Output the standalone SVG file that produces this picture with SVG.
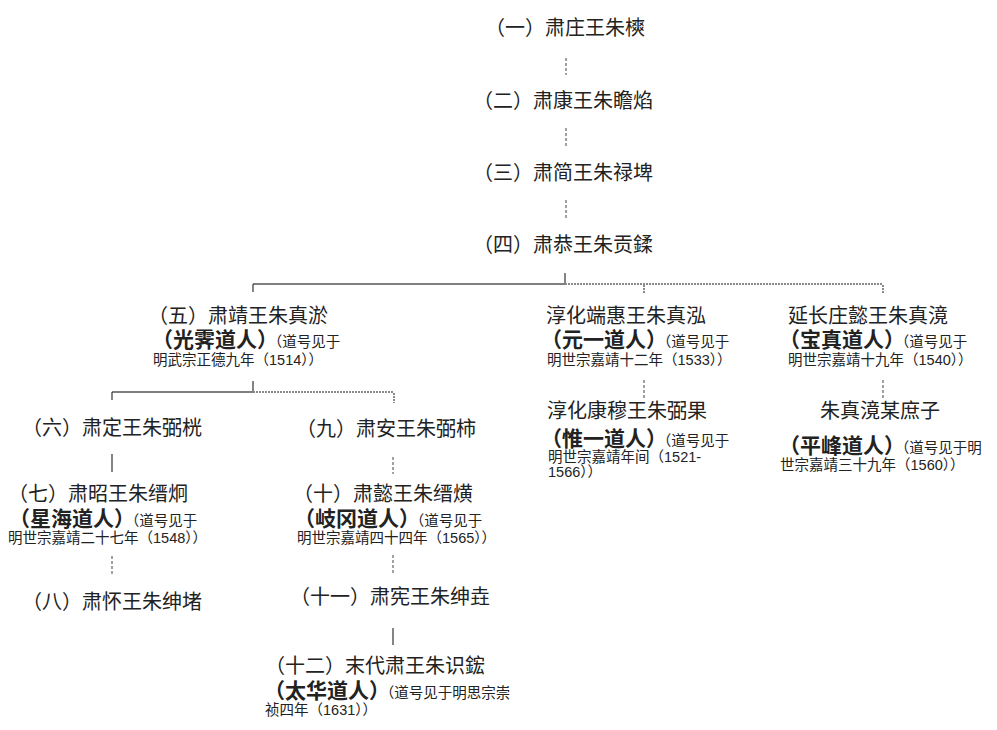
<svg xmlns="http://www.w3.org/2000/svg" width="997" height="730" viewBox="0 0 997 730">
<style>
text{font-family:"Liberation Sans","Noto Sans CJK SC",sans-serif;fill:#222}
.t{font-size:20px}
.b{font-size:21px;font-weight:bold}
.s{font-size:14.5px}
.solid{stroke:#7f7f7f;stroke-width:2;fill:none}
.tick{stroke:#333;stroke-width:1.2;fill:none}
.dot{stroke:#8a8a8a;stroke-width:2;stroke-dasharray:2 1;fill:none}
.dash{stroke:#444;stroke-width:1;stroke-dasharray:3 2;fill:none}
</style>
<rect width="997" height="730" fill="#fff"/>
<g id="connectors">
<line class="dash" x1="566" y1="58" x2="566" y2="75"/>
<line class="dash" x1="566" y1="128" x2="566" y2="146"/>
<line class="dash" x1="566" y1="200" x2="566" y2="218"/>
<line class="tick" x1="565" y1="273" x2="565" y2="284"/>
<line class="solid" x1="253" y1="284" x2="565" y2="284"/>
<line class="dot" x1="565" y1="284" x2="883" y2="284"/>
<line class="tick" x1="253" y1="284" x2="253" y2="292"/>
<line class="dot" x1="644" y1="285" x2="644" y2="293" stroke-width="1.5"/>
<line class="dot" x1="883" y1="285" x2="883" y2="293" stroke-width="1.5"/>
<line class="tick" x1="253" y1="381" x2="253" y2="392"/>
<line class="solid" x1="112" y1="392" x2="253" y2="392"/>
<line class="dot" x1="253" y1="392" x2="394" y2="392"/>
<line class="tick" x1="112" y1="392" x2="112" y2="400"/>
<line class="dot" x1="394" y1="393" x2="394" y2="403" stroke-width="1.5"/>
<line class="tick" x1="112" y1="454" x2="112" y2="472"/>
<line class="dash" x1="112" y1="556" x2="112" y2="575"/>
<line class="dash" x1="393" y1="457" x2="393" y2="474"/>
<line class="dash" x1="393" y1="555" x2="393" y2="575"/>
<line class="tick" x1="393" y1="628" x2="393" y2="645"/>
<line class="dash" x1="644" y1="380" x2="644" y2="398"/>
<line class="dash" x1="883" y1="380" x2="883" y2="398"/>
</g>
<g id="n1"><text class="t" x="485" y="35">（一）肃庄王朱樉</text></g>
<g id="n2"><text class="t" x="473" y="108">（二）肃康王朱瞻焰</text></g>
<g id="n3"><text class="t" x="473" y="180">（三）肃简王朱禄埤</text></g>
<g id="n4"><text class="t" x="473" y="252">（四）肃恭王朱贡鍒</text></g>
<g id="n5">
<text class="t" x="148" y="323">（五）肃靖王朱真淤</text>
<text x="152" y="347"><tspan class="b">（光霁道人）</tspan><tspan class="s" dx="-3">（道号见于</tspan></text>
<text class="s" x="153" y="365">明武宗正德九年（1514））</text>
</g>
<g id="n5b">
<text class="t" x="546" y="323">淳化端惠王朱真泓</text>
<text x="541" y="347"><tspan class="b">（元一道人）</tspan><tspan class="s" dx="-3">（道号见于</tspan></text>
<text class="s" x="547" y="365">明世宗嘉靖十二年（1533））</text>
</g>
<g id="n5c">
<text class="t" x="788" y="323">延长庄懿王朱真滰</text>
<text x="779" y="347"><tspan class="b">（宝真道人）</tspan><tspan class="s" dx="-3">（道号见于</tspan></text>
<text class="s" x="788" y="365">明世宗嘉靖十九年（1540））</text>
</g>
<g id="n5b1">
<text class="t" x="547" y="418">淳化康穆王朱弼果</text>
<text x="541" y="446"><tspan class="b">（惟一道人）</tspan><tspan class="s" dx="-3">（道号见于</tspan></text>
<text class="s" x="548" y="462">明世宗嘉靖年间（1521-</text>
<text class="s" x="548" y="477">1566））</text>
</g>
<g id="n5c1">
<text class="t" x="820" y="418">朱真滰某庶子</text>
<text x="779" y="453"><tspan class="b">（平峰道人）</tspan><tspan class="s" dx="-3">（道号见于明</tspan></text>
<text class="s" x="780" y="470">世宗嘉靖三十九年（1560））</text>
</g>
<g id="n6"><text class="t" x="22" y="435">（六）肃定王朱弼桄</text></g>
<g id="n7">
<text class="t" x="8" y="501">（七）肃昭王朱缙炯</text>
<text x="9" y="526"><tspan class="b">（星海道人）</tspan><tspan class="s" dx="-3">（道号见于</tspan></text>
<text class="s" x="8" y="543">明世宗嘉靖二十七年（1548））</text>
</g>
<g id="n8"><text class="t" x="22" y="609">（八）肃怀王朱绅堵</text></g>
<g id="n9"><text class="t" x="296" y="436">（九）肃安王朱弼柿</text></g>
<g id="n10">
<text class="t" x="293" y="501">（十）肃懿王朱缙熿</text>
<text x="294" y="526"><tspan class="b">（岐冈道人）</tspan><tspan class="s" dx="-3">（道号见于</tspan></text>
<text class="s" x="297" y="543">明世宗嘉靖四十四年（1565））</text>
</g>
<g id="n11"><text class="t" x="290" y="604">（十一）肃宪王朱绅垚</text></g>
<g id="n12">
<text class="t" x="265" y="673">（十二）末代肃王朱识鋐</text>
<text x="264" y="698"><tspan class="b">（太华道人）</tspan><tspan class="s" dx="-3">（道号见于明思宗崇</tspan></text>
<text class="s" x="265" y="715">祯四年（1631））</text>
</g>
</svg>
